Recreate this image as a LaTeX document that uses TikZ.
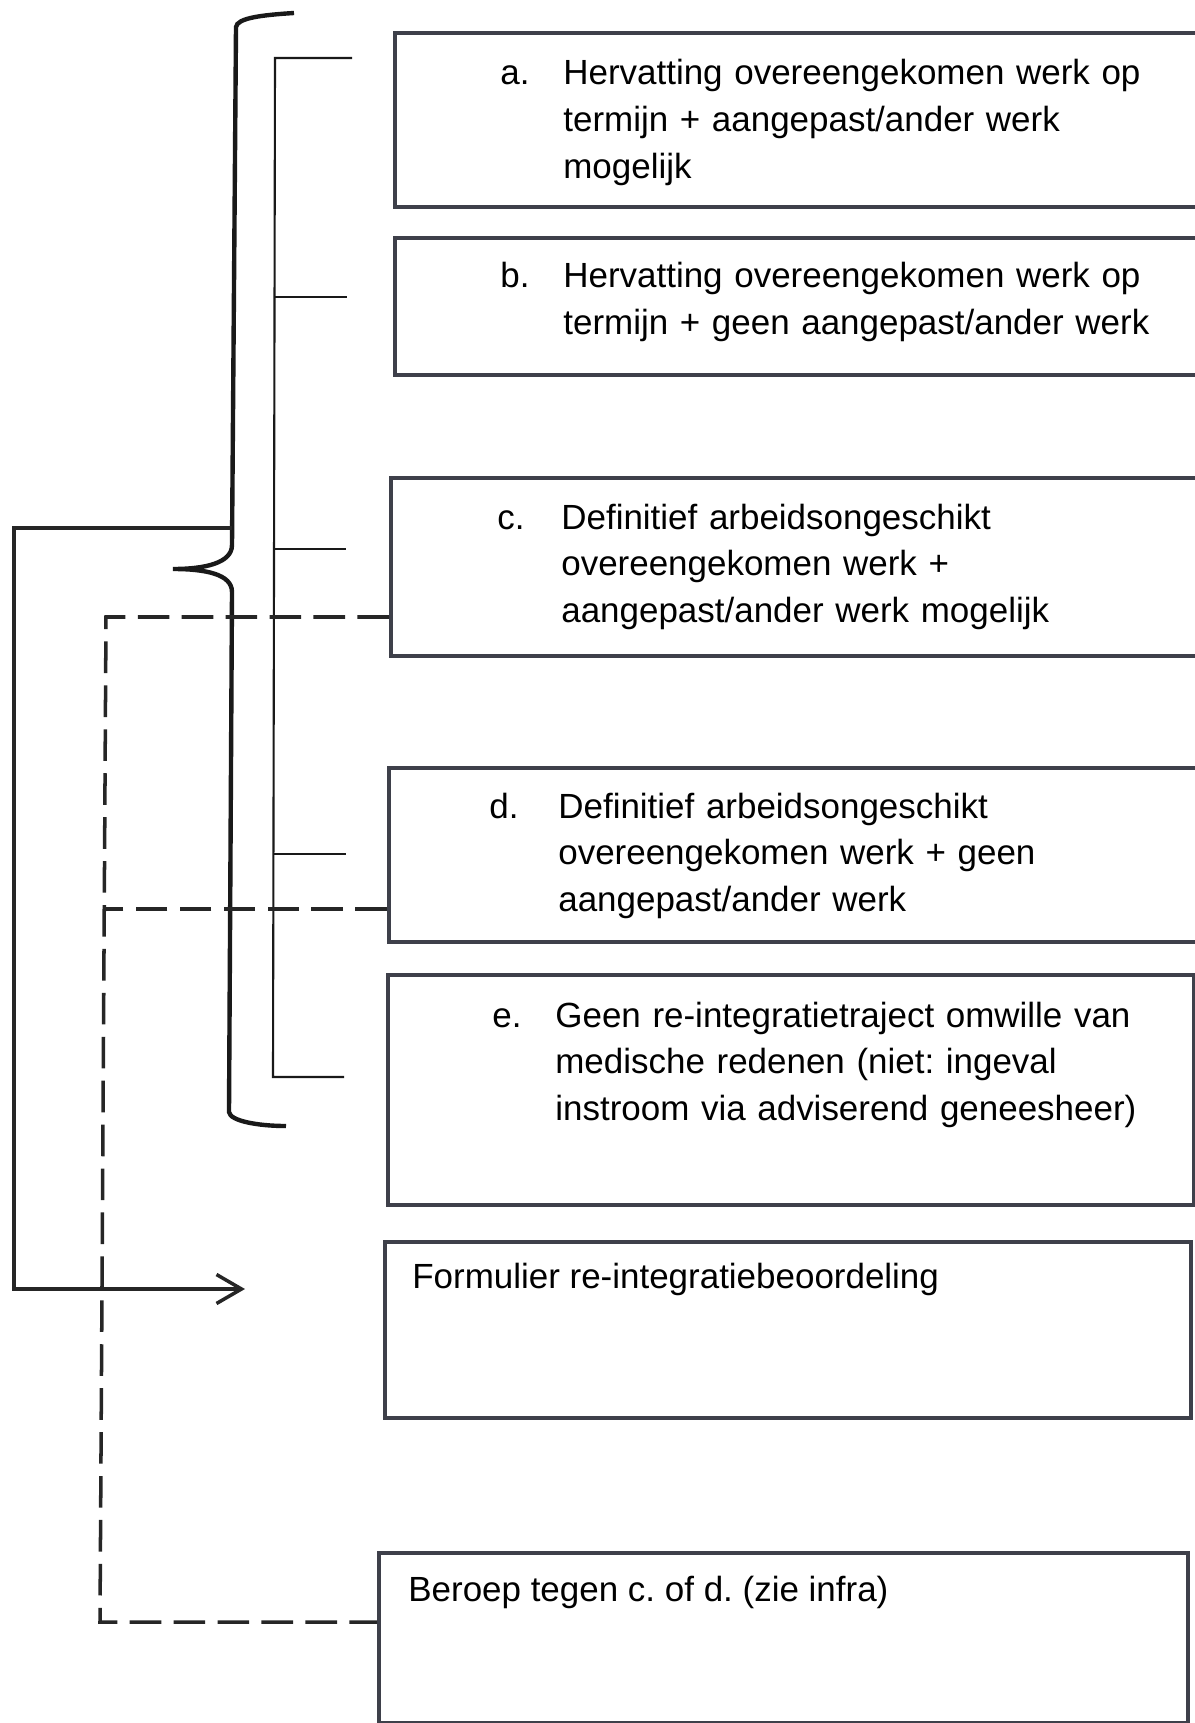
\documentclass[tikz,border=0pt]{standalone}
\usepackage{fontspec}
\setmainfont{Liberation Sans}
\usetikzlibrary{arrows.meta,positioning}
\definecolor{scan}{RGB}{62,64,74}
\frenchspacing

\tikzset{
  box/.style={draw=scan,line width=2.1pt,rectangle,anchor=north west,inner sep=0pt},
  lbl/.style={anchor=base west,inner sep=0pt,font=\fontsize{19.9pt}{26.7pt}\selectfont},
  txt/.style={lbl,text width=12.6cm,align=left},
  brace/.style={line width=2.5pt,black!90},
  bracket/.style={line width=1.2pt,black!90},
  loopline/.style={line width=2pt,black!85},
  dashline/.style={line width=2pt,black!85,dash pattern=on 18pt off 7pt}
}

\begin{document}
\begin{tikzpicture}[x=0.02cm,y=-0.02cm]
\useasboundingbox (0,0) rectangle (1195,1723);

\node[box,minimum width=16.44cm,minimum height=3.48cm] (a) at (393,31) {};
\node[box,minimum width=16.44cm,minimum height=2.74cm] (b) at (393,236) {};
\node[box,minimum width=16.52cm,minimum height=3.56cm] (c) at (389,476) {};
\node[box,minimum width=16.56cm,minimum height=3.48cm] (d) at (387,766) {};
\node[box,minimum width=16.12cm,minimum height=4.60cm] (e) at (386,973) {};
\node[box,minimum width=16.12cm,minimum height=3.52cm] (form) at (383,1240) {};
\node[box,minimum width=16.18cm,minimum height=3.40cm] (beroep) at (377,1551) {};

\node[lbl] (la) at (500,85) {a.};
\node[txt] (ta) at (563,85) {Hervatting overeengekomen werk op\\termijn + aangepast/ander werk\\mogelijk};
\node[lbl] (lb) at (500,288) {b.};
\node[txt] (tb) at (563,288) {Hervatting overeengekomen werk op\\termijn + geen aangepast/ander werk};
\node[lbl] (lc) at (497,529) {c.};
\node[txt] (tc) at (561,529) {Definitief arbeidsongeschikt\\overeengekomen werk +\\aangepast/ander werk mogelijk};
\node[lbl] (ld) at (489,818) {d.};
\node[txt] (td) at (558,818) {Definitief arbeidsongeschikt\\overeengekomen werk + geen\\aangepast/ander werk};
\node[lbl] (le) at (492,1027) {e.};
\node[txt] (te) at (555,1027) {Geen re-integratietraject omwille van\\medische redenen (niet: ingeval\\instroom via adviserend geneesheer)};
\node[lbl] (tform) at (412,1288) {Formulier re-integratiebeoordeling};
\node[lbl] (tberoep) at (408,1601) {Beroep tegen c. of d. (zie infra)};

\draw[brace] (294,13) .. controls (262,15) and (237,18) .. (236,27) -- (232,545)
  .. controls (232,563) and (205,569) .. (173,569)
  .. controls (205,569) and (232,574) .. (232,592) -- (229,1112)
  .. controls (230,1121) and (258,1126) .. (286,1126);

\draw[bracket] (352,58) -- (275,58) -- (273,1077) -- (344,1077);
\draw[bracket] (275,297) -- (347,297);
\draw[bracket] (274,549) -- (346,549);
\draw[bracket] (273,854) -- (346,854);

\coordinate (bracein) at (232,528);
\coordinate (formin) at (245,1289);
\draw[loopline,-{Straight Barb[length=0.5cm,width=0.58cm]}] (bracein) -| (14,1289) -- (formin);

\draw[dashline] (c.west |- 0,617) -- (106,617) -- (100,1622) -- (beroep.west |- 0,1622);
\draw[dashline] (d.west |- 0,909) -- (106,909);
\end{tikzpicture}
\end{document}
